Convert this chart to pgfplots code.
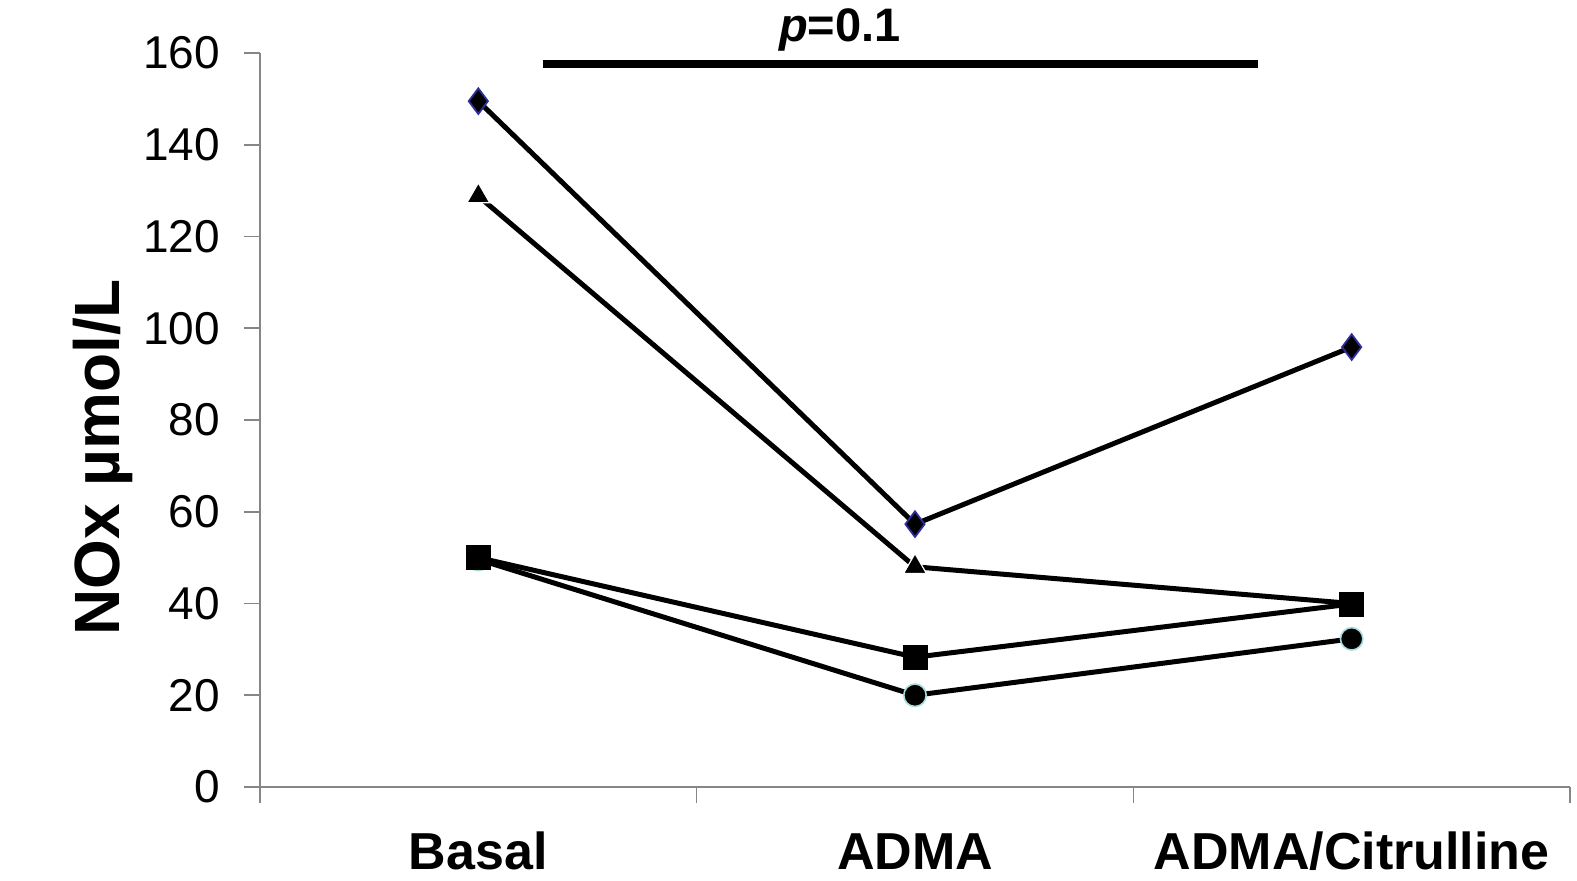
\documentclass[border=0pt]{standalone}
\usepackage{fontspec}
\setmainfont{Liberation Sans}
\usepackage{pgfplots}
\pgfplotsset{compat=1.18}
\definecolor{axisgray}{HTML}{868686}
\definecolor{dmblue}{HTML}{2E2E9A}
\definecolor{circcyan}{HTML}{A6DCDC}
\begin{document}
\begin{tikzpicture}
\path[use as bounding box] (-130pt,-46.5pt) rectangle (658.5pt,393.5pt);
\begin{axis}[
  at={(0,0)}, anchor=south west,
  scale only axis,
  width=655pt, height=367pt,
  xmin=0, xmax=3, ymin=0, ymax=160,
  clip=false,
  axis x line=bottom, axis y line=left,
  axis line style={-, draw=axisgray, line width=0.8pt},
  xtick={0,1,2,3},
  xticklabels={},
  extra x ticks={0.5,1.5,2.5},
  extra x tick labels={Basal,ADMA,ADMA/Citrulline},
  extra x tick style={major tick length=0pt, tick style={draw=none}},
  ytick={0,20,...,160},
  tick align=outside,
  major tick length=7.8pt,
  tick style={draw=axisgray, line width=0.8pt},
  /pgf/number format/assume math mode=true,
  yticklabel style={font=\fontsize{23}{27}\selectfont, anchor=east, inner sep=0pt, xshift=-12pt},
  xticklabel style={font=\fontsize{26}{30}\selectfont\bfseries, anchor=base, inner sep=0pt, yshift=-41pt},
  ylabel={NOx µmol/L},
  ylabel style={font=\fontsize{32}{36}\selectfont\bfseries, at={(axis description cs:-0.1195,0.449)}, anchor=center, rotate=0},
]
% circle series
\addplot[black, line width=2.5pt, mark=*, mark size=5.6pt,
  mark options={fill=black, draw=circcyan, line width=0.8pt}]
  coordinates {(0.5,49.6) (1.5,20.0) (2.5,32.3)};
% triangle series
\addplot[black, line width=2.5pt, mark=triangle*, mark size=6.6pt,
  mark options={fill=black, draw=white, line width=0.6pt}]
  coordinates {(0.5,128.8) (1.5,48.0) (2.5,40.0)};
% square series
\addplot[black, line width=2.5pt, mark=square*, mark size=6pt,
  mark options={fill=black, draw=black, line width=0.4pt}]
  coordinates {(0.5,50.0) (1.5,28.3) (2.5,39.9)};
% diamond series
\addplot[black, line width=2.5pt, mark=diamond*, mark size=6.4pt,
  mark options={fill=black, draw=dmblue, line width=0.9pt}]
  coordinates {(0.5,149.5) (1.5,57.3) (2.5,95.9)};
% significance bar
\addplot[black, line width=4pt, no marks] coordinates {(0.648,157.6) (2.285,157.6)};
\node[anchor=base, font=\fontsize{23.5}{28}\selectfont\bfseries] at (axis cs:1.328,162.6) {\itshape p\upshape =0.1};
\end{axis}
\end{tikzpicture}
\end{document}
